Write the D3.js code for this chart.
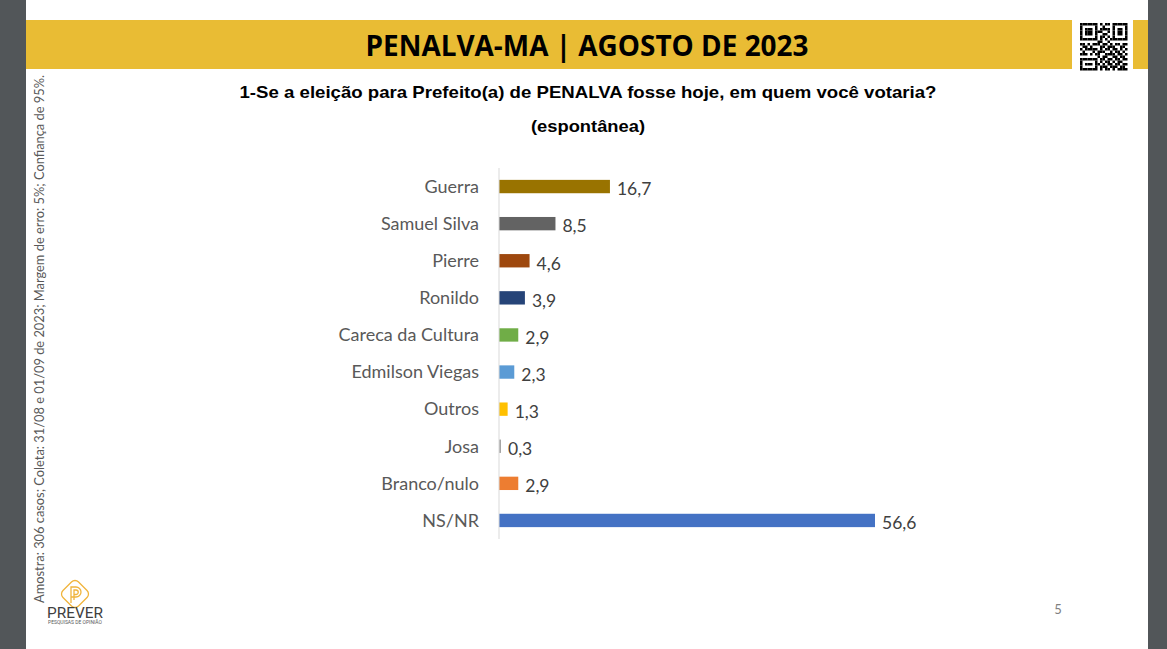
<!DOCTYPE html>
<html>
<head>
<meta charset="utf-8">
<script src="https://cdn.jsdelivr.net/npm/d3@7"></script>
<style>
  html, body { margin: 0; padding: 0; background: #525659; }
  svg { display: block; }
</style>
</head>
<body>
<div id="chart"></div>
<script>
// values
const categories = ["Guerra", "Samuel Silva", "Pierre", "Ronildo", "Careca da Cultura",
  "Edmilson Viegas", "Outros", "Josa", "Branco/nulo", "NS/NR"];
const values = [16.7, 8.5, 4.6, 3.9, 2.9, 2.3, 1.3, 0.3, 2.9, 56.6];
const barColors = ["#997300", "#636363", "#9E480E", "#264478", "#70AD47",
  "#5B9BD5", "#FFC000", "#A5A5A5", "#ED7D31", "#4472C4"];

const headerTitle = "PENALVA-MA | AGOSTO DE 2023";
const question = "1-Se a eleição para Prefeito(a) de PENALVA fosse hoje, em quem você votaria?";
const questionNote = "(espontânea)";
const sideNote = "Amostra: 306 casos; Coleta: 31/08 e 01/09 de 2023; Margem de erro: 5%; Confiança de 95%.";
const pageNumber = "5";

const W = 1167, H = 649;
const page = { x0: 26, x1: 1148 };

const svg = d3.select("#chart").append("svg")
  .attr("width", W).attr("height", H);

// page
svg.append("rect").attr("x", page.x0).attr("y", 0)
  .attr("width", page.x1 - page.x0).attr("height", H).attr("fill", "#fff");

// header band (gap for the qr code)
svg.append("rect").attr("x", page.x0).attr("y", 20)
  .attr("width", 1072 - page.x0).attr("height", 49).attr("fill", "#E9BC34");
svg.append("rect").attr("x", 1133).attr("y", 20)
  .attr("width", page.x1 - 1133).attr("height", 49).attr("fill", "#E9BC34");

svg.append("text")
  .attr("x", 587).attr("y", 56)
  .attr("text-anchor", "middle")
  .attr("font-family", "Open Sans, sans-serif")
  .attr("font-weight", "bold").attr("font-size", 28)
  .attr("textLength", 443).attr("lengthAdjust", "spacingAndGlyphs")
  .attr("fill", "#000")
  .text(headerTitle);

// qr code (just a pseudo pattern)
const qr = svg.append("g").attr("transform", "translate(1080,23)");
const qrBits = [
  "1111111010110111111",
  "1000001001000100001",
  "1011101011110101101",
  "1011101110010101101",
  "1011101001100101101",
  "1000001011010100001",
  "1111111010101111111",
  "0000000110010000000",
  "1101011101101011011",
  "0110100011011100110",
  "1011111010110110101",
  "0100010111001011010",
  "1110101100111101101",
  "0000000101100110110",
  "1111111011011011011",
  "1000001010110101100",
  "1011101101011011011",
  "1000001011101110110",
  "1111111010110101111"
];
const qs = 2.5;
qrBits.forEach((row, r) => row.split("").forEach((b, c) => {
  if (b === "1") qr.append("rect").attr("x", c * qs).attr("y", r * qs)
    .attr("width", qs).attr("height", qs).attr("fill", "#000");
}));

// question
svg.append("text")
  .attr("x", 588).attr("y", 98)
  .attr("text-anchor", "middle")
  .attr("font-family", "Liberation Sans, Arial, sans-serif")
  .attr("font-weight", "bold").attr("font-size", 16.5)
  .attr("textLength", 697).attr("lengthAdjust", "spacingAndGlyphs")
  .attr("fill", "#000")
  .text(question);
svg.append("text")
  .attr("x", 588).attr("y", 132)
  .attr("text-anchor", "middle")
  .attr("font-family", "Liberation Sans, Arial, sans-serif")
  .attr("font-weight", "bold").attr("font-size", 16.5)
  .attr("textLength", 114).attr("lengthAdjust", "spacingAndGlyphs")
  .attr("fill", "#000")
  .text(questionNote);

// side note, read bottom to top
svg.append("text")
  .attr("transform", "translate(44,603) rotate(-90)")
  .attr("font-family", "Lato, sans-serif")
  .attr("font-size", 12.5)
  .attr("textLength", 528).attr("lengthAdjust", "spacingAndGlyphs")
  .attr("fill", "#595959")
  .text(sideNote);

// bar chart
const axisX = 499;
const y = d3.scaleBand().domain(categories).range([168, 539]).paddingInner(0.64).paddingOuter(0.32);
const x = d3.scaleLinear().domain([0, 56.6]).range([axisX, 875]);

const chart = svg.append("g");

chart.selectAll("rect.bar")
  .data(values)
  .join("rect")
  .attr("class", "bar")
  .attr("x", x(0))
  .attr("y", (d, i) => y(categories[i]))
  .attr("width", d => x(d) - x(0))
  .attr("height", y.bandwidth())
  .attr("fill", (d, i) => barColors[i]);

chart.append("line")
  .attr("x1", axisX).attr("x2", axisX)
  .attr("y1", 168).attr("y2", 539)
  .attr("stroke", "#D9D9D9").attr("stroke-width", 1);

chart.selectAll("text.cat")
  .data(categories)
  .join("text")
  .attr("class", "cat")
  .attr("x", 479)
  .attr("y", d => y(d) + y.bandwidth() / 2)
  .attr("dy", "0.35em")
  .attr("text-anchor", "end")
  .attr("font-family", "Lato, sans-serif")
  .attr("font-size", 18)
  .attr("fill", "#595959")
  .text(d => d);

chart.selectAll("text.val")
  .data(values)
  .join("text")
  .attr("class", "val")
  .attr("x", d => x(d) + 7)
  .attr("y", (d, i) => y(categories[i]) + y.bandwidth() / 2)
  .attr("dy", "0.5em")
  .attr("font-family", "Lato, sans-serif")
  .attr("font-size", 17.5)
  .attr("fill", "#404040")
  .text(d => d.toLocaleString("pt-BR", { minimumFractionDigits: 1 }));

// page number
svg.append("text")
  .attr("x", 1058).attr("y", 614)
  .attr("text-anchor", "middle")
  .attr("font-family", "Lato, sans-serif")
  .attr("font-size", 13)
  .attr("fill", "#808080")
  .text(pageNumber);

// logo
const logo = svg.append("g").attr("transform", "translate(75,594)");
logo.append("rect")
  .attr("x", -11).attr("y", -11).attr("width", 22).attr("height", 22)
  .attr("rx", 5)
  .attr("transform", "rotate(45)")
  .attr("fill", "none").attr("stroke", "#F0B43C").attr("stroke-width", 1.3);
logo.append("path")
  .attr("d", "M-4,9 V-7 H1 A5,5 0 0 1 1,3 H-4 M-1,6 V-4 H1 A2.2,2.2 0 0 1 1,0.5 H-1")
  .attr("fill", "none").attr("stroke", "#F0B43C").attr("stroke-width", 1.3);
logo.append("text")
  .attr("x", 0).attr("y", 24)
  .attr("text-anchor", "middle")
  .attr("font-family", "Roboto, sans-serif")
  .attr("font-size", 14)
  .attr("textLength", 56).attr("lengthAdjust", "spacingAndGlyphs")
  .attr("fill", "#404040")
  .text("PREVER");
logo.append("text")
  .attr("x", 0).attr("y", 30)
  .attr("text-anchor", "middle")
  .attr("font-family", "Roboto, sans-serif")
  .attr("font-size", 4.5)
  .attr("textLength", 54).attr("lengthAdjust", "spacingAndGlyphs")
  .attr("fill", "#595959")
  .text("PESQUISAS DE OPINIÃO");
</script>
</body>
</html>
